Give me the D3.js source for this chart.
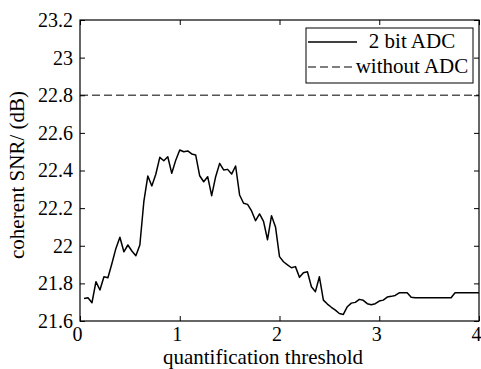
<!DOCTYPE html>
<html>
<head>
<meta charset="utf-8">
<script src="https://cdnjs.cloudflare.com/ajax/libs/d3/7.8.5/d3.min.js"></script>
<style>
  body { margin: 0; background: #fff; }
  svg { display: block; font-family: "Liberation Serif", "Times New Roman", serif; }
</style>
</head>
<body>
<div class="chart"></div>
<script>
// quantification threshold (x) and coherent SNR in dB for the 2 bit ADC
const thresholds = [0.04,0.08,0.12,0.16,0.20,0.24,0.28,0.32,0.36,0.40,0.44,0.48,0.52,0.56,0.60,0.64,0.68,0.72,0.76,0.80,
  0.84,0.88,0.92,0.96,1.00,1.04,1.08,1.12,1.16,1.20,1.24,1.28,1.32,1.36,1.40,1.44,1.48,1.52,1.56,1.60,
  1.64,1.68,1.72,1.76,1.80,1.84,1.88,1.92,1.96,2.00,2.04,2.08,2.12,2.16,2.20,2.24,2.28,2.32,2.36,2.40,
  2.44,2.48,2.52,2.56,2.60,2.64,2.68,2.72,2.76,2.80,2.84,2.88,2.92,2.96,3.00,3.04,3.08,3.12,3.16,3.20,
  3.24,3.28,3.32,3.36,3.40,3.44,3.48,3.52,3.56,3.60,3.64,3.68,3.72,3.76,3.80,3.84,3.88,3.92,3.96,4.00];
const snr2bit = [21.72,21.724,21.697,21.809,21.765,21.835,21.83,21.906,21.986,22.045,21.968,22.004,21.972,21.947,22.004,22.234,22.371,22.318,22.38,22.47,
  22.452,22.473,22.385,22.455,22.509,22.50,22.504,22.488,22.482,22.372,22.34,22.367,22.266,22.367,22.438,22.403,22.406,22.381,22.424,22.27,
  22.226,22.22,22.185,22.133,22.169,22.13,22.032,22.16,22.10,21.942,21.915,21.898,21.883,21.889,21.832,21.857,21.862,21.782,21.756,21.835,
  21.711,21.69,21.673,21.658,21.64,21.635,21.676,21.695,21.699,21.715,21.71,21.692,21.686,21.692,21.706,21.711,21.727,21.731,21.736,21.75,
  21.75,21.75,21.726,21.724,21.724,21.724,21.724,21.724,21.724,21.724,21.724,21.724,21.724,21.75,21.75,21.75,21.75,21.75,21.75,21.75];
// reference level without ADC
const snrNoAdc = 22.8;

const xTicks = [0, 1, 2, 3, 4];
const yTicks = [21.6, 21.8, 22, 22.2, 22.4, 22.6, 22.8, 23, 23.2];
const legendLabels = ["2 bit ADC", "without ADC"];

const W = 481, H = 369;
const margin = {top: 20, right: 2, bottom: 48, left: 80};
const width = W - margin.left - margin.right;
const height = H - margin.top - margin.bottom;

const svg = d3.select(".chart").append("svg")
    .attr("width", W)
    .attr("height", H);
const g = svg.append("g")
    .attr("transform", "translate(" + margin.left + "," + margin.top + ")");

const x = d3.scaleLinear().domain([0, 4]).range([0, width]);
const y = d3.scaleLinear().domain([21.6, 23.2]).range([height, 0]);

// dashed reference line
g.append("line")
    .attr("x1", x(0)).attr("x2", x(4))
    .attr("y1", y(snrNoAdc)).attr("y2", y(snrNoAdc))
    .attr("stroke", "#555")
    .attr("stroke-width", 1.4)
    .attr("stroke-dasharray", "8,4");

// the 2 bit ADC curve
const line = d3.line()
    .x((d, i) => x(thresholds[i]))
    .y(d => y(d));
g.append("path")
    .datum(snr2bit)
    .attr("fill", "none")
    .attr("stroke", "#000")
    .attr("stroke-width", 1.5)
    .attr("stroke-linejoin", "round")
    .attr("d", line);

// axes, ticks pointing inward like matlab
const tickFont = "20px";
const labelFont = "21px";
const xAxis = g.append("g")
    .attr("transform", "translate(0," + height + ")")
    .call(d3.axisBottom(x).tickValues(xTicks).tickFormat(d3.format("d")).tickSize(-5).tickPadding(6));
xAxis.selectAll("text").attr("dx", -3);
const yAxis = g.append("g")
    .call(d3.axisLeft(y).tickValues(yTicks).tickFormat(d => String(+d.toFixed(1))).tickSize(-5).tickPadding(7));
g.append("g")
    .call(d3.axisTop(x).tickValues(xTicks).tickFormat("").tickSize(-5));
g.append("g")
    .attr("transform", "translate(" + width + ",0)")
    .call(d3.axisRight(y).tickValues(yTicks).tickFormat("").tickSize(-5));

g.selectAll(".domain").remove();
g.selectAll(".tick line").attr("stroke", "#000");
g.selectAll(".tick text")
    .attr("fill", "#000")
    .style("font-size", tickFont)
    .style("font-family", "Liberation Serif, serif");

// box
g.append("rect")
    .attr("x", 0).attr("y", 0)
    .attr("width", width).attr("height", height)
    .attr("fill", "none")
    .attr("stroke", "#000")
    .attr("stroke-width", 1.2);

// axis titles
svg.append("text")
    .attr("x", 263)
    .attr("y", 364)
    .attr("text-anchor", "middle")
    .style("font-size", labelFont)
    .text("quantification threshold");
svg.append("text")
    .attr("transform", "translate(24,175) rotate(-90)")
    .attr("text-anchor", "middle")
    .style("font-size", labelFont)
    .text("coherent SNR/ (dB)");

// legend
const legend = svg.append("g").attr("transform", "translate(306,28)");
legend.append("rect")
    .attr("width", 167).attr("height", 55)
    .attr("fill", "#fff")
    .attr("stroke", "#000")
    .attr("stroke-width", 1);
legend.append("line")
    .attr("x1", 2).attr("x2", 51).attr("y1", 14).attr("y2", 14)
    .attr("stroke", "#000").attr("stroke-width", 1.5);
legend.append("line")
    .attr("x1", 2).attr("x2", 50).attr("y1", 39).attr("y2", 39)
    .attr("stroke", "#555").attr("stroke-width", 1.4)
    .attr("stroke-dasharray", "8,4");
legend.selectAll("text.lbl")
    .data(legendLabels)
    .enter().append("text")
    .attr("class", "lbl")
    .attr("x", 106)
    .attr("y", (d, i) => 19.5 + i * 25.5)
    .attr("text-anchor", "middle")
    .style("font-size", labelFont)
    .text(d => d);
</script>
</body>
</html>
